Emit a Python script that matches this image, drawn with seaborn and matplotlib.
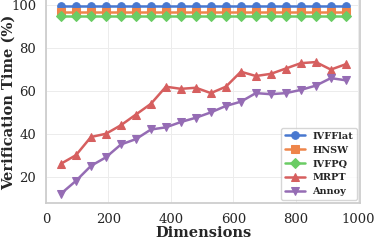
import matplotlib
matplotlib.use('Agg')
import matplotlib.pyplot as plt
import seaborn as sns
import pandas as pd

dims = [48 * i for i in range(1, 21)]
ivfflat = [99.5] * 20
hnsw = [97.0] * 20
ivfpq = [95.0] * 20
mrpt = [26, 30, 38.5, 40, 44, 49, 54, 62, 61, 61.5,
        59, 62, 69, 67, 68, 70.5, 73, 73.5, 70, 72.5]
annoy = [12, 18, 25, 29, 35, 37.5, 42, 43, 45.5, 47.5,
         50, 53, 55, 59, 58.5, 59, 60.5, 62.5, 66, 65]

methods = ['IVFFlat', 'HNSW', 'IVFPQ', 'MRPT', 'Annoy']
series = [ivfflat, hnsw, ivfpq, mrpt, annoy]
markers = ['o', 's', 'D', '^', 'v']

df = pd.DataFrame({
    'Dimensions': dims * len(methods),
    'Value': sum(series, []),
    'Method': [m for m in methods for _ in dims],
})

sns.set_theme(style='whitegrid', palette='muted')
plt.rcParams['font.family'] = ['DejaVu Serif']

fig, ax = plt.subplots(figsize=(3.77, 2.42), dpi=100)
sns.lineplot(data=df, x='Dimensions', y='Value', hue='Method', style='Method',
             markers=markers, dashes=False, markersize=5.5, linewidth=1.8,
             markeredgecolor=None, ax=ax)

ax.set_xlabel('Dimensions', fontsize=10.5, fontweight='bold', labelpad=0.5)
ax.set_ylabel('Verification Time (%)', fontsize=10.5, fontweight='bold')
ax.yaxis.set_label_coords(-0.095, 0.49)
ax.set_xticks([0, 200, 400, 600, 800, 1000])
ax.set_yticks([20, 40, 60, 80, 100])
ax.tick_params(labelsize=9.5, pad=1)
ax.grid(color='#ececec', linewidth=0.7)
leg = ax.legend(loc='lower right', prop={'weight': 'bold', 'size': 7}, frameon=True,
                borderaxespad=0.3)
leg.get_frame().set_edgecolor('#cccccc')

fig.subplots_adjust(left=0.122, right=0.955, bottom=0.161, top=1.012)
fig.savefig('out.png', dpi=100)
